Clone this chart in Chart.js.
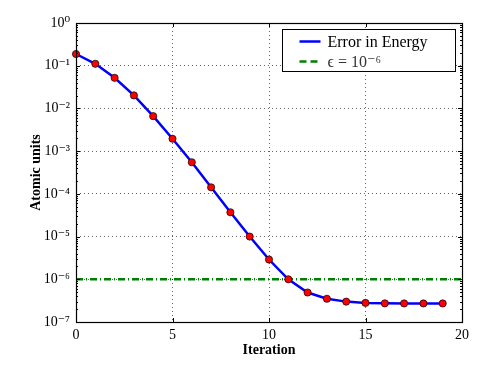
<!DOCTYPE html>
<html>
<head>
<meta charset="utf-8">
<script src="https://cdn.jsdelivr.net/npm/chart.js@4/dist/chart.umd.min.js"></script>
<style>
  html, body { margin: 0; padding: 0; background: #fff; }
  #wrap { width: 498px; height: 374px; }
</style>
</head>
<body>
<div id="wrap"><canvas id="chart" width="498" height="374"></canvas></div>
<script>
// datos
const iterations = [0, 1, 2, 3, 4, 5, 6, 7, 8, 9, 10, 11, 12, 13, 14, 15, 16, 17, 18, 19];
const energyError = [0.188, 0.111, 0.052, 0.0202, 0.0066, 0.00195, 0.00055, 0.000142, 3.7e-5, 1.0e-5,
                     2.9e-6, 1.0e-6, 4.9e-7, 3.5e-7, 3.0e-7, 2.8e-7, 2.73e-7, 2.72e-7, 2.72e-7, 2.72e-7];
const epsilon = 1e-6;
const xRange = [0, 20];
const yExponents = [-7, -6, -5, -4, -3, -2, -1, 0];
const seriesNames = ['Error in Energy', 'ϵ = 10⁻⁶'];

const SUP = { '-': '⁻', '0': '⁰', '1': '¹', '2': '²', '3': '³', '4': '⁴', '5': '⁵', '6': '⁶', '7': '⁷', '8': '⁸', '9': '⁹' };
function powLabel(e) {
    return '10' + String(e).split('').map(c => SUP[c]).join('');
}

const serif = '"Liberation Serif", "DejaVu Serif", serif';
const gridColor = 'rgba(0,0,0,0.6)';

// marcas interiores, marco y leyenda con recuadro
const framePlugin = {
    id: 'frame',
    afterDraw(chart) {
        const ctx = chart.ctx;
        const a = chart.chartArea;
        const xs = chart.scales.x, ys = chart.scales.y;
        ctx.save();
        ctx.strokeStyle = '#000';
        ctx.lineWidth = 1;
        ys.ticks.forEach(t => {
            const y = Math.round(ys.getPixelForValue(t.value)) + 0.5;
            const len = t.major ? 4 : 2;
            ctx.beginPath();
            ctx.moveTo(a.left, y); ctx.lineTo(a.left + len, y);
            ctx.moveTo(a.right, y); ctx.lineTo(a.right - len, y);
            ctx.stroke();
        });
        xs.ticks.forEach(t => {
            const x = Math.round(xs.getPixelForValue(t.value)) + 0.5;
            ctx.beginPath();
            ctx.moveTo(x, a.bottom); ctx.lineTo(x, a.bottom - 4);
            ctx.moveTo(x, a.top); ctx.lineTo(x, a.top + 4);
            ctx.stroke();
        });
        ctx.lineWidth = 1.2;
        ctx.strokeRect(Math.round(a.left) + 0.5, Math.round(a.top) + 0.5,
                       Math.round(a.right - a.left), Math.round(a.bottom - a.top));

        // leyenda
        const w = 173, h = 42;
        const bx = Math.round(a.right - 7 - w) + 0.5, by = Math.round(a.top + 6) + 0.5;
        ctx.fillStyle = '#fff';
        ctx.fillRect(bx, by, w, h);
        ctx.lineWidth = 1;
        ctx.strokeStyle = '#000';
        ctx.strokeRect(bx, by, w, h);
        chart.data.datasets.forEach((ds, i) => {
            const ly = by + 12 + i * 20;
            ctx.beginPath();
            ctx.strokeStyle = ds.borderColor;
            ctx.lineWidth = ds.borderWidth;
            ctx.setLineDash(i === 0 ? [] : [7, 4]);
            ctx.moveTo(bx + 17, ly); ctx.lineTo(bx + 38, ly);
            ctx.stroke();
            ctx.setLineDash([]);
            ctx.fillStyle = i === 0 ? '#000' : '#333';
            ctx.font = '16px ' + serif;
            ctx.textBaseline = 'middle';
            ctx.fillText(ds.label, bx + 45, ly + 1);
        });
        ctx.restore();
    }
};

const ctx = document.getElementById('chart').getContext('2d');
const chart = new Chart(ctx, {
    type: 'line',
    data: {
        datasets: [{
            label: seriesNames[0],
            data: iterations.map((it, i) => ({ x: it, y: energyError[i] })),
            borderColor: '#0000ff',
            borderWidth: 2.5,
            pointBackgroundColor: '#ff0000',
            pointBorderColor: '#000',
            pointBorderWidth: 0.7,
            pointRadius: 3.6,
            tension: 0,
            clip: false
        }, {
            label: seriesNames[1],
            data: xRange.map(x => ({ x: x, y: epsilon })),
            borderColor: '#008000',
            borderWidth: 2.5,
            borderDash: [7, 3, 1, 3],
            pointRadius: 0
        }]
    },
    options: {
        responsive: false,
        animation: false,
        devicePixelRatio: 1,
        layout: { padding: { top: 23, right: 36, left: 0, bottom: 0 } },
        plugins: {
            legend: { display: false },
            tooltip: { enabled: false }
        },
        scales: {
            x: {
                type: 'linear',
                min: xRange[0],
                max: xRange[1],
                afterFit: s => { s.height = 52; },
                ticks: {
                    stepSize: 5,
                    padding: 5,
                    color: '#000',
                    font: { family: serif, size: 14 }
                },
                grid: {
                    drawTicks: false,
                    color: c => (c.tick && c.tick.value > xRange[0] && c.tick.value < xRange[1]) ? gridColor : 'transparent',
                    lineWidth: 1
                },
                border: { display: false, dash: [1, 3] },
                title: {
                    display: true,
                    text: 'Iteration',
                    color: '#000',
                    font: { family: serif, size: 14, weight: 'bold' },
                    padding: { bottom: 15, top: 0 }
                }
            },
            y: {
                type: 'logarithmic',
                min: Math.pow(10, yExponents[0]),
                max: Math.pow(10, yExponents[yExponents.length - 1]),
                afterFit: s => { s.width = 76; },
                afterBuildTicks: s => {
                    const ticks = [];
                    yExponents.forEach(e => {
                        const top = e === yExponents[yExponents.length - 1] ? 1 : 9;
                        for (let m = 1; m <= top; m++) {
                            ticks.push({ value: m * Math.pow(10, e), major: m === 1 });
                        }
                    });
                    s.ticks = ticks;
                },
                ticks: {
                    autoSkip: false,
                    padding: 6,
                    color: '#000',
                    font: { family: serif, size: 14 },
                    callback: function(value) {
                        const e = Math.log10(value);
                        return Math.abs(e - Math.round(e)) < 1e-6 ? powLabel(Math.round(e)) : '';
                    }
                },
                grid: {
                    drawTicks: false,
                    color: c => {
                        if (!c.tick || !c.tick.major) return 'transparent';
                        const e = Math.round(Math.log10(c.tick.value));
                        return (e > yExponents[0] && e < yExponents[yExponents.length - 1]) ? gridColor : 'transparent';
                    },
                    lineWidth: 1
                },
                border: { display: false, dash: [1, 3] },
                title: {
                    display: true,
                    text: 'Atomic units',
                    color: '#000',
                    font: { family: serif, size: 14, weight: 'bold' },
                    padding: { top: 28, bottom: 0 }
                }
            }
        }
    },
    plugins: [framePlugin]
});
</script>
</body>
</html>
